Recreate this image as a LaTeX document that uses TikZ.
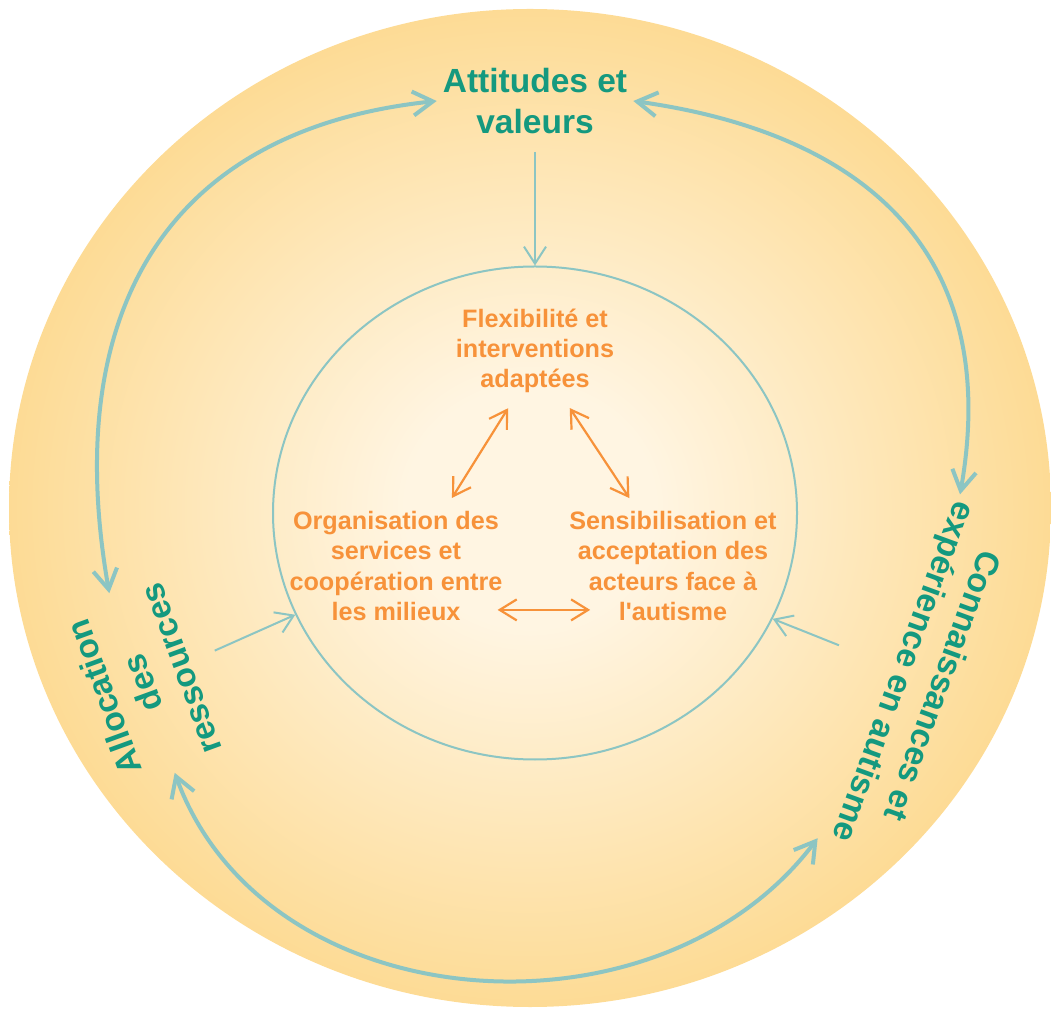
\documentclass[tikz,border=0pt]{standalone}
\usepackage{fontspec}
\setmainfont{Liberation Sans}
\usetikzlibrary{arrows.meta,shapes.geometric}

\definecolor{sand}{HTML}{FDDB95}
\definecolor{cream}{HTML}{FFF5E2}
\definecolor{tealline}{HTML}{8CC5C3}
\definecolor{tealtext}{HTML}{14997F}
\definecolor{orangetext}{HTML}{F7923A}

\pgfdeclareradialshading{glow}{\pgfpoint{0bp}{0bp}}{%
  color(0bp)=(cream); color(6bp)=(cream); color(25bp)=(sand); color(50bp)=(sand)}

\begin{document}
\begin{tikzpicture}[
        x=1pt, y=1pt,
        theme/.style={text=tealtext, font=\bfseries\fontsize{33.5}{41}\selectfont, align=center, inner sep=6pt},
        factor/.style={text=orangetext, font=\bfseries\fontsize{25.2}{30.3}\selectfont, align=center, inner sep=3pt},
        bigarrow/.style={{Straight Barb[length=20pt,width=24pt]}-{Straight Barb[length=20pt,width=24pt]}, line width=4pt, draw=tealline},
        feed/.style={-{Straight Barb[length=17pt,width=22pt]}, line width=2pt, draw=tealline},
        duo/.style={{Straight Barb[length=17pt,width=21pt]}-{Straight Barb[length=17pt,width=21pt]}, line width=2.2pt, draw=orangetext}
    ]
        \useasboundingbox (0,0) rectangle (1051,1015);
        % Background disc
        \shade[shading=glow] (530,507) ellipse [x radius=521pt, y radius=499pt];
        % Inner ring
        \node[draw=tealline, line width=2pt, ellipse, minimum width=524pt, minimum height=493pt] (core) at (535,502) {};
        % Outer themes
        \node[theme] (attitudes) at (535,914) {Attitudes et\\valeurs};
        \node[theme, rotate=110] (allocation) at (142,332) {Allocation\\des\\ressources};
        \node[theme, rotate=-110] (knowledge) at (921,337) {Connaissances et\\expérience en autisme};
        % Inner factors
        \node[factor] (flex) at (535,664) {Flexibilité et\\interventions\\adaptées};
        \node[factor] (org) at (396,449) {Organisation des\\services et\\coopération entre\\les milieux};
        \node[factor] (sens) at (673,449) {Sensibilisation et\\acceptation des\\acteurs face à\\l\textquotesingle autisme};
        % Arrows between themes
        \draw[bigarrow] (attitudes.west) to[out=186, in=100, looseness=1.2] (allocation.east);
        \draw[bigarrow] (attitudes.east) to[out=-8, in=80, looseness=1.2] (knowledge.188);
        \draw[bigarrow] (allocation.west) to[out=-70, in=233, looseness=1.05] (knowledge.south east);
        % Themes feeding the ring
        \draw[feed, shorten <=12pt] (attitudes) -- (core);
        \draw[feed, shorten <=20pt] (allocation) -- (core.203);
        \draw[feed, shorten <=46pt] (knowledge) -- (core.336);
        % Arrows between factors
        \draw[duo, shorten <=14pt, shorten >=12pt] ([xshift=-19.5]flex.south) -- ([xshift=49.6]org.north);
        \draw[duo, shorten <=14pt, shorten >=12pt] ([xshift=27]flex.south) -- ([xshift=-37]sens.north);
        \draw[duo] ([shift={(-8,14)}]org.south east) -- ([shift={(24,14)}]sens.south west);
    \end{tikzpicture}
\end{document}
